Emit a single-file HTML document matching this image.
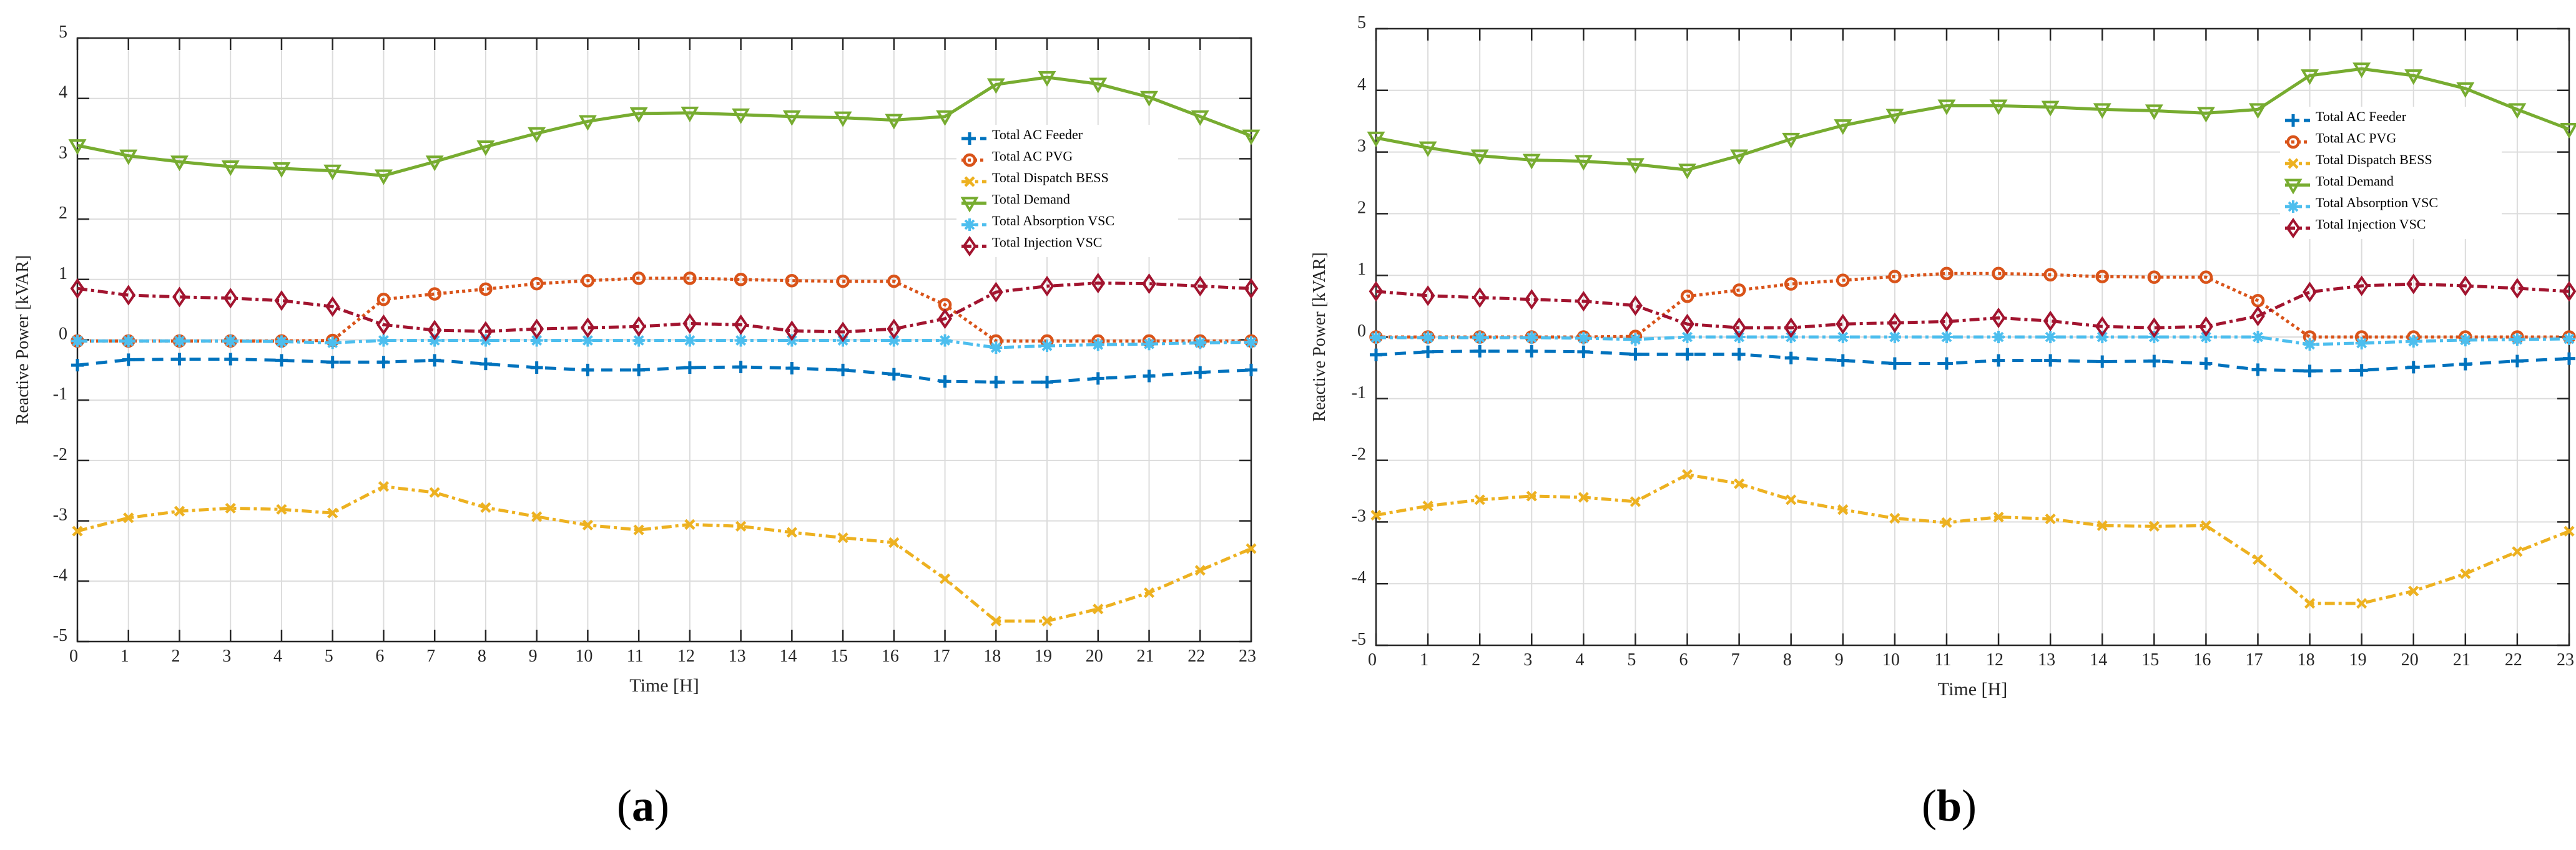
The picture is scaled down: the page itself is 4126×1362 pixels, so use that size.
<!DOCTYPE html>
<html><head><meta charset="utf-8"><style>
html,body{margin:0;padding:0;background:#fff;}
svg{display:block;font-family:"Liberation Serif",serif;}
</style></head><body>
<svg id="root" width="4126" height="1362" viewBox="0 0 4126 1362"></svg>
<script>
const hours = [0,1,2,3,4,5,6,7,8,9,10,11,12,13,14,15,16,17,18,19,20,21,22,23];
const yTicks = [-5,-4,-3,-2,-1,0,1,2,3,4,5];
const seriesNames = ["Total AC Feeder","Total AC PVG","Total Dispatch BESS","Total Demand","Total Absorption VSC","Total Injection VSC"];
// Panel (a)
const aFeeder = [-0.42,-0.33,-0.32,-0.32,-0.34,-0.37,-0.37,-0.34,-0.40,-0.46,-0.50,-0.50,-0.46,-0.45,-0.47,-0.50,-0.57,-0.69,-0.70,-0.70,-0.64,-0.60,-0.54,-0.50];
const aPVG = [-0.02,-0.02,-0.02,-0.02,-0.02,-0.01,0.67,0.76,0.84,0.93,0.98,1.02,1.02,1.00,0.98,0.97,0.97,0.58,-0.02,-0.02,-0.02,-0.02,-0.02,-0.02];
const aBESS = [-3.17,-2.95,-2.84,-2.79,-2.81,-2.87,-2.43,-2.53,-2.78,-2.93,-3.07,-3.15,-3.06,-3.09,-3.19,-3.28,-3.36,-3.96,-4.66,-4.66,-4.46,-4.19,-3.82,-3.46];
const aDemand = [3.22,3.05,2.95,2.87,2.84,2.80,2.72,2.95,3.20,3.42,3.62,3.75,3.76,3.73,3.70,3.68,3.64,3.70,4.23,4.35,4.24,4.02,3.70,3.38];
const aAbsorb = [-0.02,-0.02,-0.02,-0.02,-0.03,-0.05,-0.01,-0.01,-0.01,-0.01,-0.01,-0.01,-0.01,-0.01,-0.01,-0.01,-0.01,-0.01,-0.13,-0.10,-0.08,-0.07,-0.05,-0.04];
const aInject = [0.85,0.74,0.71,0.69,0.65,0.55,0.25,0.16,0.14,0.18,0.20,0.22,0.27,0.25,0.15,0.13,0.18,0.35,0.79,0.89,0.94,0.93,0.89,0.85];
// Panel (b)
const bFeeder = [-0.29,-0.24,-0.23,-0.23,-0.24,-0.28,-0.28,-0.28,-0.34,-0.38,-0.43,-0.43,-0.38,-0.38,-0.40,-0.39,-0.43,-0.53,-0.55,-0.54,-0.49,-0.44,-0.39,-0.35];
const bPVG = [0,0,0,0,0,0.01,0.66,0.76,0.86,0.92,0.98,1.03,1.03,1.01,0.98,0.97,0.97,0.59,0,0,0,0,0,0];
const bBESS = [-2.89,-2.74,-2.64,-2.58,-2.60,-2.67,-2.23,-2.38,-2.64,-2.80,-2.94,-3.01,-2.92,-2.95,-3.06,-3.07,-3.06,-3.61,-4.32,-4.32,-4.12,-3.84,-3.48,-3.15];
const bDemand = [3.23,3.07,2.94,2.87,2.85,2.80,2.71,2.94,3.21,3.43,3.60,3.75,3.75,3.73,3.69,3.67,3.63,3.69,4.24,4.35,4.24,4.03,3.69,3.37];
const bAbsorb = [-0.01,-0.01,-0.01,-0.01,-0.02,-0.04,0,0,0,0,0,0,0,0,0,0,0,0,-0.12,-0.10,-0.07,-0.05,-0.04,-0.03];
const bInject = [0.74,0.67,0.64,0.61,0.58,0.51,0.21,0.15,0.15,0.21,0.23,0.25,0.31,0.26,0.17,0.15,0.17,0.34,0.73,0.83,0.86,0.83,0.79,0.74];

const NS="http://www.w3.org/2000/svg";
const root=document.getElementById('root');
function mk(tag,attrs,parent){const e=document.createElementNS(NS,tag);for(const k in attrs)e.setAttribute(k,attrs[k]);(parent||root).appendChild(e);return e;}

const styles=[
 {color:"#0072BD",dash:"18 12",marker:"plus"},
 {color:"#D95319",dash:"5 5",marker:"circle"},
 {color:"#EDB120",dash:"16 6 5 6",marker:"x"},
 {color:"#77AC30",dash:"",marker:"tri"},
 {color:"#4DBEEE",dash:"16 6 5 6",marker:"star"},
 {color:"#A2142F",dash:"16 6 5 6",marker:"diamond"}
];

function marker(g,type,x,y,color){
 const s=10;let e;
 if(type==="plus"){e=mk('path',{d:`M${x-s} ${y}H${x+s}M${x} ${y-s}V${y+s}`,stroke:color,'stroke-width':5,fill:'none'},g);}
 else if(type==="circle"){e=mk('circle',{cx:x,cy:y,r:8.5,stroke:color,'stroke-width':4.5,fill:'none'},g);}
 else if(type==="x"){const t=7;e=mk('path',{d:`M${x-t} ${y-t}L${x+t} ${y+t}M${x-t} ${y+t}L${x+t} ${y-t}`,stroke:color,'stroke-width':4.5,fill:'none'},g);}
 else if(type==="tri"){e=mk('path',{d:`M${x-11} ${y-8}H${x+11}L${x} ${y+11}Z`,stroke:color,'stroke-width':4,fill:'none'},g);}
 else if(type==="star"){const t=7;e=mk('path',{d:`M${x-s} ${y}H${x+s}M${x} ${y-s}V${y+s}M${x-t} ${y-t}L${x+t} ${y+t}M${x-t} ${y+t}L${x+t} ${y-t}`,stroke:color,'stroke-width':4,fill:'none'},g);}
 else {e=mk('path',{d:`M${x} ${y-13}L${x+9} ${y}L${x} ${y+13}L${x-9} ${y}Z`,stroke:color,'stroke-width':4,fill:'none'},g);}
 
 
}

function panel(cfg){
 const {L,R,T,B,data,leg,label,cx,ylx,id}=cfg;
 const g=mk('g',{});
 
 
 const xs=h=>L+(R-L)*h/23;
 const ys=v=>T+(B-T)*(5-v)/10;
 // grid
 const grid=mk('g',{stroke:'#dcdcdc','stroke-width':2},g);
 
 
 hours.forEach(h=>mk('line',{x1:xs(h),x2:xs(h),y1:T,y2:B},grid));
 yTicks.forEach(v=>mk('line',{x1:L,x2:R,y1:ys(v),y2:ys(v)},grid));
 // box & ticks
 const ax=mk('g',{stroke:'#262626','stroke-width':2.5,fill:'none'},g);
 
 
 mk('rect',{x:L,y:T,width:R-L,height:B-T},ax);
 hours.forEach(h=>{mk('line',{x1:xs(h),x2:xs(h),y1:T,y2:T+19},ax);mk('line',{x1:xs(h),x2:xs(h),y1:B,y2:B-19},ax);});
 yTicks.forEach(v=>{mk('line',{x1:L,x2:L+19,y1:ys(v),y2:ys(v)},ax);mk('line',{x1:R,x2:R-19,y1:ys(v),y2:ys(v)},ax);});
 // tick labels
 hours.forEach(h=>{const t=mk('text',{x:xs(h)-6,y:B+32,'font-size':28,'text-anchor':'middle',fill:'#262626'},g);t.textContent=h;
  });
 yTicks.forEach(v=>{const t=mk('text',{x:L-16,y:ys(v)-1,'font-size':28,'text-anchor':'end',fill:'#262626'},g);t.textContent=v;
  });
 // series
 data.forEach((arr,i)=>{
  const st=styles[i];
  const sg=mk('g',{},g);
  
  
  const pts=arr.map((v,k)=>xs(hours[k])+','+ys(v)).join(' ');
  const pl=mk('polyline',{points:pts,fill:'none',stroke:st.color,'stroke-width':5,'stroke-dasharray':st.dash,'stroke-linejoin':'round'},sg);
  
  
  arr.forEach((v,k)=>marker(sg,st.marker,xs(hours[k]),ys(v),st.color));
 });
 // legend
 const lg=mk('g',{},g);
 
 
 mk('rect',{x:leg.x-8,y:leg.y-22,width:355,height:212,fill:'#fff'},lg);
 seriesNames.forEach((n,i)=>{
  const st=styles[i];const y=leg.y+i*34.5;
  const eg=mk('g',{},lg);
  
  
  mk('line',{x1:leg.x,x2:leg.x+40,y1:y,y2:y,stroke:st.color,'stroke-width':5,'stroke-dasharray':st.dash},eg);
  marker(eg,st.marker,leg.x+13,y,st.color);
  const t=mk('text',{x:leg.x+49,y:y+1,'font-size':22,fill:'#000'},eg);t.textContent=n;
 });
 // axis titles
 const xt=mk('text',{x:(L+R)/2,y:B+80,'font-size':30,'text-anchor':'middle',fill:'#262626'},g);xt.textContent="Time [H]";
 
 const yt=mk('text',{x:0,y:0,'font-size':28,'text-anchor':'middle',fill:'#262626',transform:`translate(${ylx},${(T+B)/2}) rotate(-90)`},g);yt.textContent="Reactive Power [kVAR]";
 
 const pl=mk('text',{x:cx,y:1315,'font-size':72,'text-anchor':'middle',fill:'#000'},g);
 pl.innerHTML='(<tspan font-weight="bold">'+label+'</tspan>)';
 
}

panel({id:'a',L:124,R:2004,T:61,B:1028,data:[aFeeder,aPVG,aBESS,aDemand,aAbsorb,aInject],leg:{x:1540,y:222},label:'a',cx:1030,ylx:45});
panel({id:'b',L:2204,R:4115,T:46,B:1034,data:[bFeeder,bPVG,bBESS,bDemand,bAbsorb,bInject],leg:{x:3660,y:193},label:'b',cx:3122,ylx:2122});
</script>
</body></html>
